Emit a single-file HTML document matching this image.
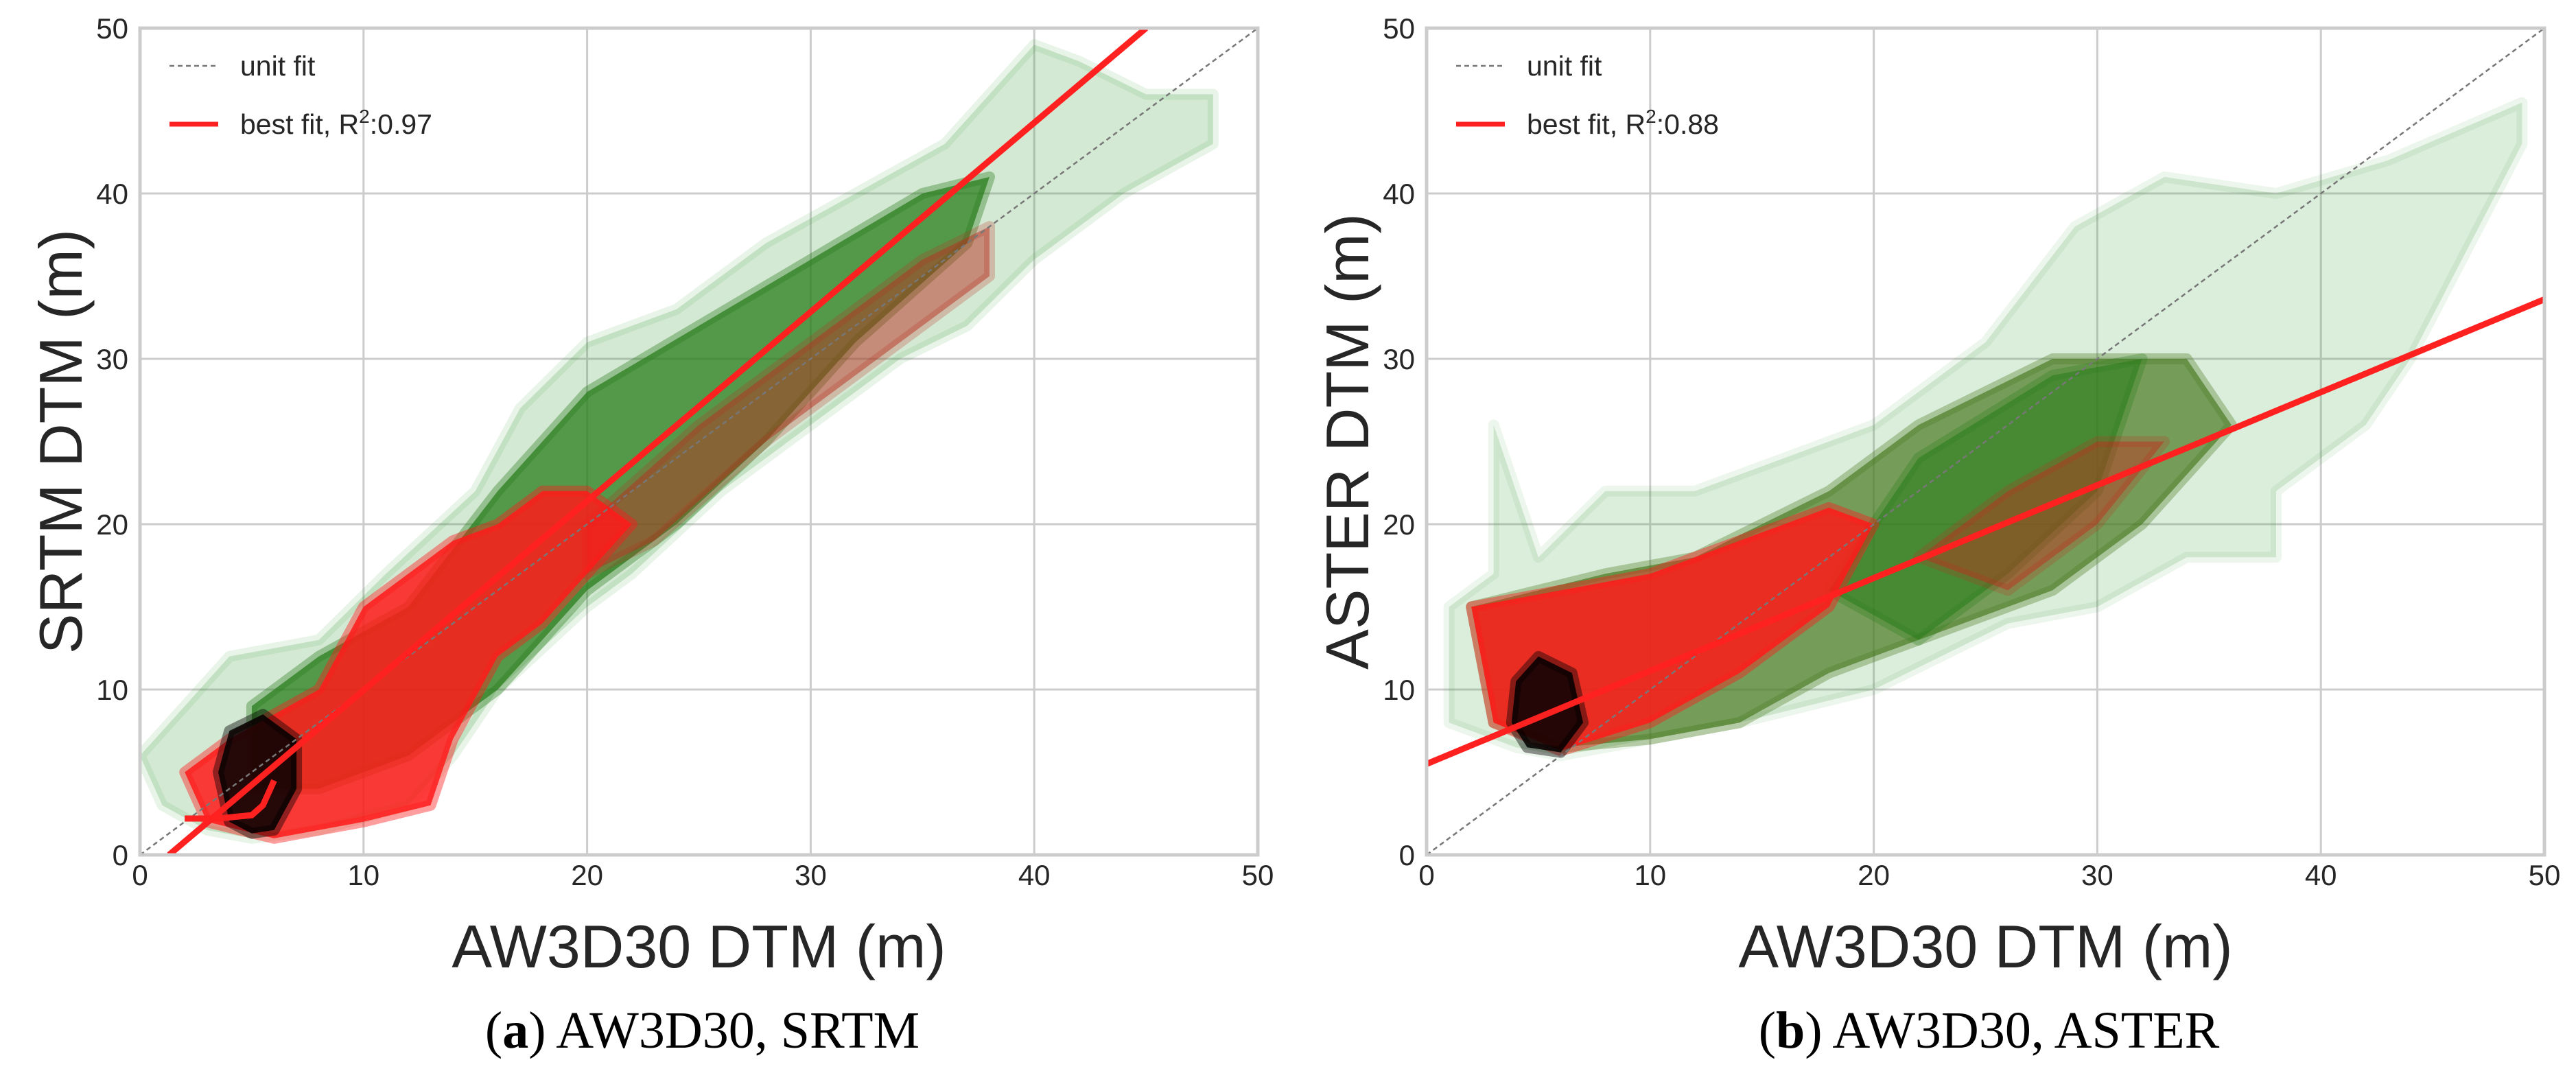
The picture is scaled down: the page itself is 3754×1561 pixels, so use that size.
<!DOCTYPE html>
<html><head><meta charset="utf-8">
<style>
html,body{margin:0;padding:0;background:#fff;}
svg{display:block;}
.tick{font-family:"Liberation Sans",sans-serif;font-size:42px;fill:#262626;}
.atitle{font-family:"Liberation Sans",sans-serif;font-size:88px;fill:#262626;}
.leg{font-family:"Liberation Sans",sans-serif;font-size:41px;fill:#262626;}
.cap{font-family:"Liberation Serif",serif;font-size:76px;fill:#000;}
</style></head>
<body>
<svg id="fig" width="3754" height="1561" viewBox="0 0 3754 1561" xmlns="http://www.w3.org/2000/svg"></svg>
<script>
// ---- data (axis units: metres) ----
const xTicks = [0, 10, 20, 30, 40, 50];
const yTicks = [0, 10, 20, 30, 40, 50];
// Panel A (SRTM)
const aEnvelopeGreen = [[0,6],[2,9],[4,12],[8,13],[11,17],[15,22],[17,27],[20,31],[24,33],[28,37],[32,40],[36,43],[40,49],[42,48],[45,46],[48,46],[48,43],[44,40],[40,36],[37,32],[34,30],[30,26],[26,22],[22,17],[20,15],[16,10],[14,6],[12,3],[8,1.5],[5,1],[3,1.5],[1,3]];
const aDenseGreen = [[5,9],[8,12],[12,15],[16,22],[20,28],[25,32],[30,36],[35,40],[38,41],[37,37],[32,31],[28,25],[24,20],[20,16],[16,10],[12,6],[8,4],[5,4]];
const aDenseRed = [[2,5],[4,7],[8,10],[10,15],[12,17],[14,19],[16,20],[18,22],[20,22],[22,20],[20,17],[18,14],[16,12],[14,7],[13,3],[10,2],[6,1],[3,2]];
const aRedBand = [[20,20],[25,26],[30,31],[35,36],[38,38],[38,35],[33,30],[28,25],[23,19],[20,17]];
const aBlack = [[4,2],[3.5,5],[4,7.5],[5.5,8.5],[7,7],[7,4],[6,1.5],[5,1.3]];
const aFitX = [1.3, 45];
const aFitY = [0, 50];
const aKinkX = [2, 3.5, 5, 5.5, 6];
const aKinkY = [2.2, 2.2, 2.4, 3, 4.5];
// Panel B (ASTER)
const bEnvelope = [[1,15],[3,17],[3,26],[5,18],[8,22],[12,22],[16,24],[20,26],[25,31],[29,38],[33,41],[38,40],[43,42],[49,45.5],[49,43],[44,30],[42,26],[38,22],[38,18],[34,18],[30,15],[26,14],[20,10],[14,8],[10,7],[6,6],[4,6.5],[1,8]];
const bDense = [[2,15],[8,17],[12,18],[18,22],[22,26],[28,30],[34,30],[36,26],[32,20],[28,16],[22,13],[18,11],[14,8],[10,7],[6,6.5],[3,8]];
const bDenseRed = [[2,15],[6,16],[10,17],[14,19],[18,21],[20,20],[18,15],[14,11],[10,8],[6,6.3],[3,8]];
const bDenseGreen = [[18,16],[22,24],[28,29],[32,30],[30,22],[26,17],[22,13]];
const bRedBand = [[22,18],[26,22],[30,25],[33,25],[30,20],[26,16]];
const bBlack = [[3.8,8],[4,10.5],[5,12],[6.5,11],[7,8],[6,6.2],[4.5,6.5]];
const bFitX = [0, 50];
const bFitY = [5.5, 33.6];

const NS = "http://www.w3.org/2000/svg";
const fig = document.getElementById('fig');
function mk(tag, attrs, parent){const e=document.createElementNS(NS,tag);for(const k in attrs)e.setAttribute(k,attrs[k]);(parent||fig).appendChild(e);return e;}

function panel(px0, label, yTitle, capText, capLetter, r2, layers, fitX, fitY, kink){
  const px1 = px0 + 1629, py0 = 41, py1 = 1246;
  const sx = v => px0 + v/50*(px1-px0);
  const sy = v => py1 - v/50*(py1-py0);
  const g = mk('g', {});
  
  
  const clipId = 'clip-'+label;
  const cp = mk('clipPath', {id: clipId}, g);
  mk('rect', {x: px0, y: py0, width: px1-px0, height: py1-py0}, cp);
  xTicks.forEach(t => {
    const l = mk('line', {x1: sx(t), x2: sx(t), y1: py0, y2: py1, stroke: '#cccccc', 'stroke-width': 3}, g);
    
    
  });
  yTicks.forEach(t => {
    const l = mk('line', {x1: px0, x2: px1, y1: sy(t), y2: sy(t), stroke: '#cccccc', 'stroke-width': 3}, g);
    
    
  });
  const plot = mk('g', {'clip-path': 'url(#'+clipId+')'}, g);
  
  
  layers.forEach(L => {
    const d = L.pts.map((p,i) => (i?'L':'M') + sx(p[0]).toFixed(1) + ' ' + sy(p[1]).toFixed(1)).join(' ') + 'Z';
    const p = mk('path', {d: d, fill: L.color, 'fill-opacity': L.op, stroke: L.color, 'stroke-opacity': L.op*0.5, 'stroke-width': 16, 'stroke-linejoin': 'round'}, plot);
    
    
  });
  const u = mk('line', {x1: sx(0), y1: sy(0), x2: sx(50), y2: sy(50), stroke: '#777', 'stroke-width': 2.5, 'stroke-dasharray': '7 5'}, plot);
  
  
  const f = mk('line', {x1: sx(fitX[0]), y1: sy(fitY[0]), x2: sx(fitX[1]), y2: sy(fitY[1]), stroke: '#ff2020', 'stroke-width': 9}, plot);
  
  
  if (kink) {
    const k = mk('polyline', {points: kink[0].map((x,i)=>sx(x)+','+sy(kink[1][i])).join(' '), fill: 'none', stroke: '#ff2020', 'stroke-width': 9}, plot);
    
    
  }
  const fr = mk('rect', {x: px0, y: py0, width: px1-px0, height: py1-py0, fill: 'none', stroke: '#cccccc', 'stroke-width': 5}, g);
  
  
  xTicks.forEach(t => {
    const tx = mk('text', {x: sx(t), y: 1290, 'text-anchor': 'middle', class: 'tick'}, g);
    tx.textContent = t;
    
    
  });
  yTicks.forEach(t => {
    const ty = mk('text', {x: px0 - 17, y: sy(t) + 15, 'text-anchor': 'end', class: 'tick'}, g);
    ty.textContent = t;
    
    
  });
  const xt = mk('text', {x: (px0+px1)/2, y: 1410, 'text-anchor': 'middle', class: 'atitle'}, g);
  xt.textContent = 'AW3D30 DTM (m)';
  
  
  const yt = mk('text', {x: 0, y: 0, 'text-anchor': 'middle', class: 'atitle', transform: 'translate('+(px0-85)+','+((py0+py1)/2)+') rotate(-90)'}, g);
  yt.textContent = yTitle;
  
  
  const lg = mk('g', {}, g);
  
  
  mk('line', {x1: px0+43, x2: px0+114, y1: 96, y2: 96, stroke: '#777', 'stroke-width': 2.5, 'stroke-dasharray': '7 5'}, lg);
  const t1 = mk('text', {x: px0+146, y: 110, class: 'leg'}, lg);
  t1.textContent = 'unit fit';
  mk('line', {x1: px0+43, x2: px0+114, y1: 181, y2: 181, stroke: '#ff2020', 'stroke-width': 7}, lg);
  const t2 = mk('text', {x: px0+146, y: 195, class: 'leg'}, lg);
  t2.innerHTML = 'best fit, R<tspan dy="-16" font-size="28">2</tspan><tspan dy="16">:' + r2 + '</tspan>';
  const c = mk('text', {x: (px0+px1)/2 + 5, y: 1527, 'text-anchor': 'middle', class: 'cap'}, g);
  c.innerHTML = '(<tspan font-weight="bold">' + capLetter + '</tspan>) ' + capText;
  
  
}

panel(204, 'a', 'SRTM DTM (m)', 'AW3D30, SRTM', 'a', '0.97', [
  {name: 'green-cloud-sparse', pts: aEnvelopeGreen, color: '#3a9a3a', op: 0.22},
  {name: 'green-cloud-dense', pts: aDenseGreen, color: '#2a7d1c', op: 0.75},
  {name: 'red-cloud-band', pts: aRedBand, color: '#b83020', op: 0.5},
  {name: 'red-cloud-dense', pts: aDenseRed, color: '#ff1a1a', op: 0.85},
  {name: 'black-cluster', pts: aBlack, color: '#000', op: 0.85}
], aFitX, aFitY, [aKinkX, aKinkY]);

panel(2079, 'b', 'ASTER DTM (m)', ' AW3D30, ASTER', 'b', '0.88', [
  {name: 'green-cloud-sparse', pts: bEnvelope, color: '#3a9a3a', op: 0.18},
  {name: 'mixed-cloud-dense', pts: bDense, color: '#4a7a22', op: 0.7},
  {name: 'green-cloud-dense', pts: bDenseGreen, color: '#2a7d1c', op: 0.6},
  {name: 'red-cloud-band', pts: bRedBand, color: '#c42a1a', op: 0.45},
  {name: 'red-cloud-dense', pts: bDenseRed, color: '#ff1a1a', op: 0.85},
  {name: 'black-cluster', pts: bBlack, color: '#000', op: 0.85}
], bFitX, bFitY, null);
</script>
</body></html>
